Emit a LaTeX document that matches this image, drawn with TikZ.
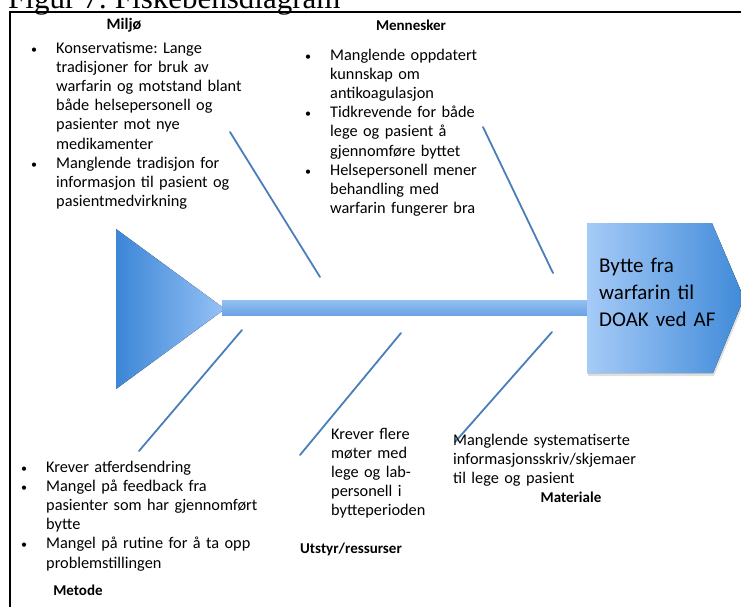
\documentclass[tikz,border=0pt]{standalone}
\usepackage{fontspec}
\setmainfont{Carlito}
\newfontfamily\captionserif{Liberation Serif}
\usepackage{xcolor}
\usetikzlibrary{positioning,shadows}
\frenchspacing

\definecolor{bone}{HTML}{4A7EBB}
\definecolor{taildark}{HTML}{3C86D7}
\definecolor{taillight}{HTML}{96C2F5}
\definecolor{headlight}{HTML}{A6CBF7}
\definecolor{headdark}{HTML}{3F8AD9}
\definecolor{spinetop}{HTML}{94C0F2}
\definecolor{spinebot}{HTML}{6BA4E4}

\newcommand{\bitem}[1]{\hangindent=24pt\hangafter=0\noindent\llap{{\fontsize{12}{12}\selectfont\textbullet}\hspace{19pt}}#1\par}

\begin{document}
\begin{tikzpicture}[x=1pt,y=-1pt,
    listtext/.style={anchor=base west,inner sep=0pt,align=left,font=\fontsize{16.3}{19.2}\selectfont},
    header/.style={anchor=base,inner sep=0pt,font=\fontsize{15}{18}\selectfont\bfseries},
    bonel/.style={draw=bone,line width=1.8pt,line cap=round}]
  \useasboundingbox (0,0) rectangle (741,606);
  % caption and frame, cut by the page
  \node[anchor=base west,inner sep=0pt,font=\captionserif\fontsize{31}{31}\selectfont] (figcap) at (8,8) {Figur 7: Fiskebensdiagram};
  \draw[line width=1.5pt] (10,620) |- (760,12);

  % tail, spine and head
  \fill[left color=taildark,right color=taillight] (116,229) -- (116,389) -- (225,309) -- cycle;
  \fill[top color=spinetop,bottom color=spinebot] (222,300) rectangle (590,315);
  \fill[left color=headlight,right color=headdark,
        drop shadow={shadow xshift=1pt,shadow yshift=-3pt,opacity=0.25}]
    (587,223) -- (712,223) -- (744,298) -- (713,373) -- (587,373) -- cycle;
  \node[listtext,text width=130pt,font=\fontsize{21}{27}\selectfont] (head) at (599,272)
    {Bytte fra\newline warfarin til\newline DOAK ved AF};

  % bones
  \coordinate (miljoA) at (230,132);   \coordinate (miljoB) at (320,277);
  \coordinate (mennA) at (483,127);    \coordinate (mennB) at (553,273);
  \coordinate (metodeA) at (242,330);  \coordinate (metodeB) at (139,451);
  \coordinate (utstyrA) at (401,333);  \coordinate (utstyrB) at (300,455);
  \coordinate (matA) at (552,332);     \coordinate (matB) at (455,442);
  \draw[bonel] (miljoA) -- (miljoB);
  \draw[bonel] (mennA) -- (mennB);
  \draw[bonel] (metodeA) -- (metodeB);
  \draw[bonel] (utstyrA) -- (utstyrB);
  \draw[bonel] (matA) -- (matB);

  % causes
  \node[header,font=\fontsize{16}{18}\selectfont\bfseries] (miljo) at (124,29) {Miljø};
  \node[listtext,text width=230pt] (miljotext) at (32,53)
    {\bitem{Konservatisme: Lange\newline tradisjoner for bruk av\newline warfarin og motstand blant\newline både helsepersonell og\newline pasienter mot nye\newline medikamenter}%
     \bitem{Manglende tradisjon for\newline informasjon til pasient og\newline pasientmedvirkning}};

  \node[header] (menn) at (411,30) {Mennesker};
  \node[listtext,text width=200pt] (menntext) at (306,60)
    {\bitem{Manglende oppdatert\newline kunnskap om\newline antikoagulasjon}%
     \bitem{Tidkrevende for både\newline lege og pasient å\newline gjennomføre byttet}%
     \bitem{Helsepersonell mener\newline behandling med\newline warfarin fungerer bra}};

  \node[listtext,text width=260pt] (metodetext) at (22,472)
    {\bitem{Krever atferdsendring}%
     \bitem{Mangel på feedback fra\newline pasienter som har gjennomført\newline bytte}%
     \bitem{Mangel på rutine for å ta opp\newline problemstillingen}};
  \node[header] (metode) at (78,595) {Metode};

  \node[listtext,text width=100pt] (utstyrtext) at (331,439)
    {Krever flere\newline møter med\newline lege og lab-\newline personell i\newline bytteperioden};
  \node[header,anchor=base west] (utstyr) at (300,553) {Utstyr/ressurser};

  \node[listtext,text width=230pt] (mattext) at (453,445)
    {Manglende systematiserte\newline informasjonsskriv/skjemaer\newline til lege og pasient};
  \node[header] (mat) at (571,502) {Materiale};
\end{tikzpicture}
\end{document}
